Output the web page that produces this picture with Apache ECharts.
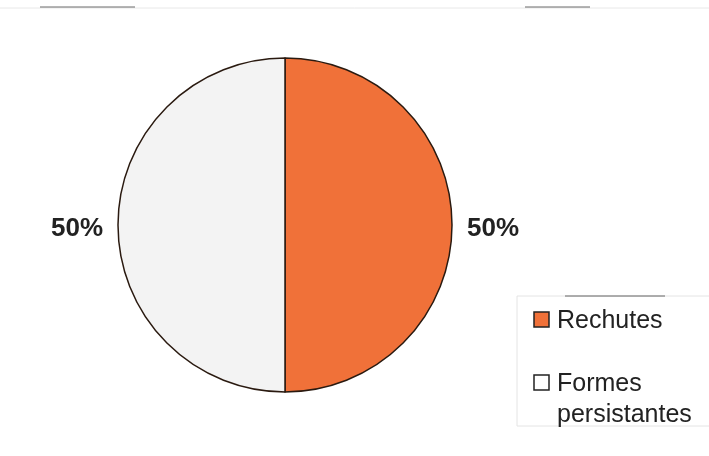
<!DOCTYPE html>
<html>
<head>
<meta charset="utf-8">
<script src="https://cdn.jsdelivr.net/npm/echarts@6/dist/echarts.min.js"></script>
<style>html,body{margin:0;padding:0;background:#fff;}#c{width:709px;height:456px;}</style>
</head>
<body>
<div id="c"></div>
<script>
var categories = ['Rechutes', 'Formes persistantes'];
var legendLines = [['Rechutes'], ['Formes', 'persistantes']];
var values = [50, 50];
var colors = ['#F07139', '#F3F3F3'];

var chart = echarts.init(document.getElementById('c'));

var legendGraphics = [];
var legendTop = [312, 375];
legendLines.forEach(function (lines, i) {
  legendGraphics.push({
    type: 'rect',
    shape: { x: 534, y: legendTop[i], width: 15, height: 15 },
    style: { fill: colors[i] === '#F3F3F3' ? '#ffffff' : colors[i], stroke: '#222', lineWidth: 1.5 }
  });
  legendGraphics.push({
    type: 'text',
    x: 557, y: legendTop[i] - 6,
    style: {
      text: lines.join('\n'),
      font: '25px "Liberation Sans", Arial, sans-serif',
      fill: '#222',
      lineHeight: 31,
      verticalAlign: 'top'
    }
  });
});

chart.setOption({
  backgroundColor: '#ffffff',
  animation: false,
  graphic: [
    { type: 'line', shape: { x1: 0, y1: 8, x2: 709, y2: 8 }, style: { stroke: '#e8e8e8', lineWidth: 1 } },
    { type: 'line', shape: { x1: 40, y1: 7, x2: 135, y2: 7 }, style: { stroke: '#444', lineWidth: 0.8 } },
    { type: 'line', shape: { x1: 525, y1: 7, x2: 590, y2: 7 }, style: { stroke: '#444', lineWidth: 0.8 } },
    { type: 'rect', shape: { x: 517, y: 296, width: 200, height: 130 }, style: { fill: 'none', stroke: '#e4e4e4', lineWidth: 1 } },
    { type: 'line', shape: { x1: 565, y1: 296, x2: 665, y2: 296 }, style: { stroke: '#444', lineWidth: 0.8 } }
  ].concat(legendGraphics),
  series: [{
    type: 'pie',
    center: [285, 225],
    radius: 167,
    startAngle: 90,
    clockwise: true,
    silent: true,
    label: {
      show: true,
      position: 'outside',
      formatter: '{v|{d}%}',
      rich: {
        v: {
          fontSize: 26,
          fontWeight: 'bold',
          fontFamily: '"Liberation Sans", Arial, sans-serif',
          color: '#222',
          padding: [8, 0, 0, 0]
        }
      }
    },
    labelLine: { show: false, length: 5, length2: 5 },
    itemStyle: { borderColor: '#2a1a10', borderWidth: 1.5 },
    data: categories.map(function (c, i) {
      return { name: c, value: values[i], itemStyle: { color: colors[i] } };
    })
  }]
});
</script>
</body>
</html>
